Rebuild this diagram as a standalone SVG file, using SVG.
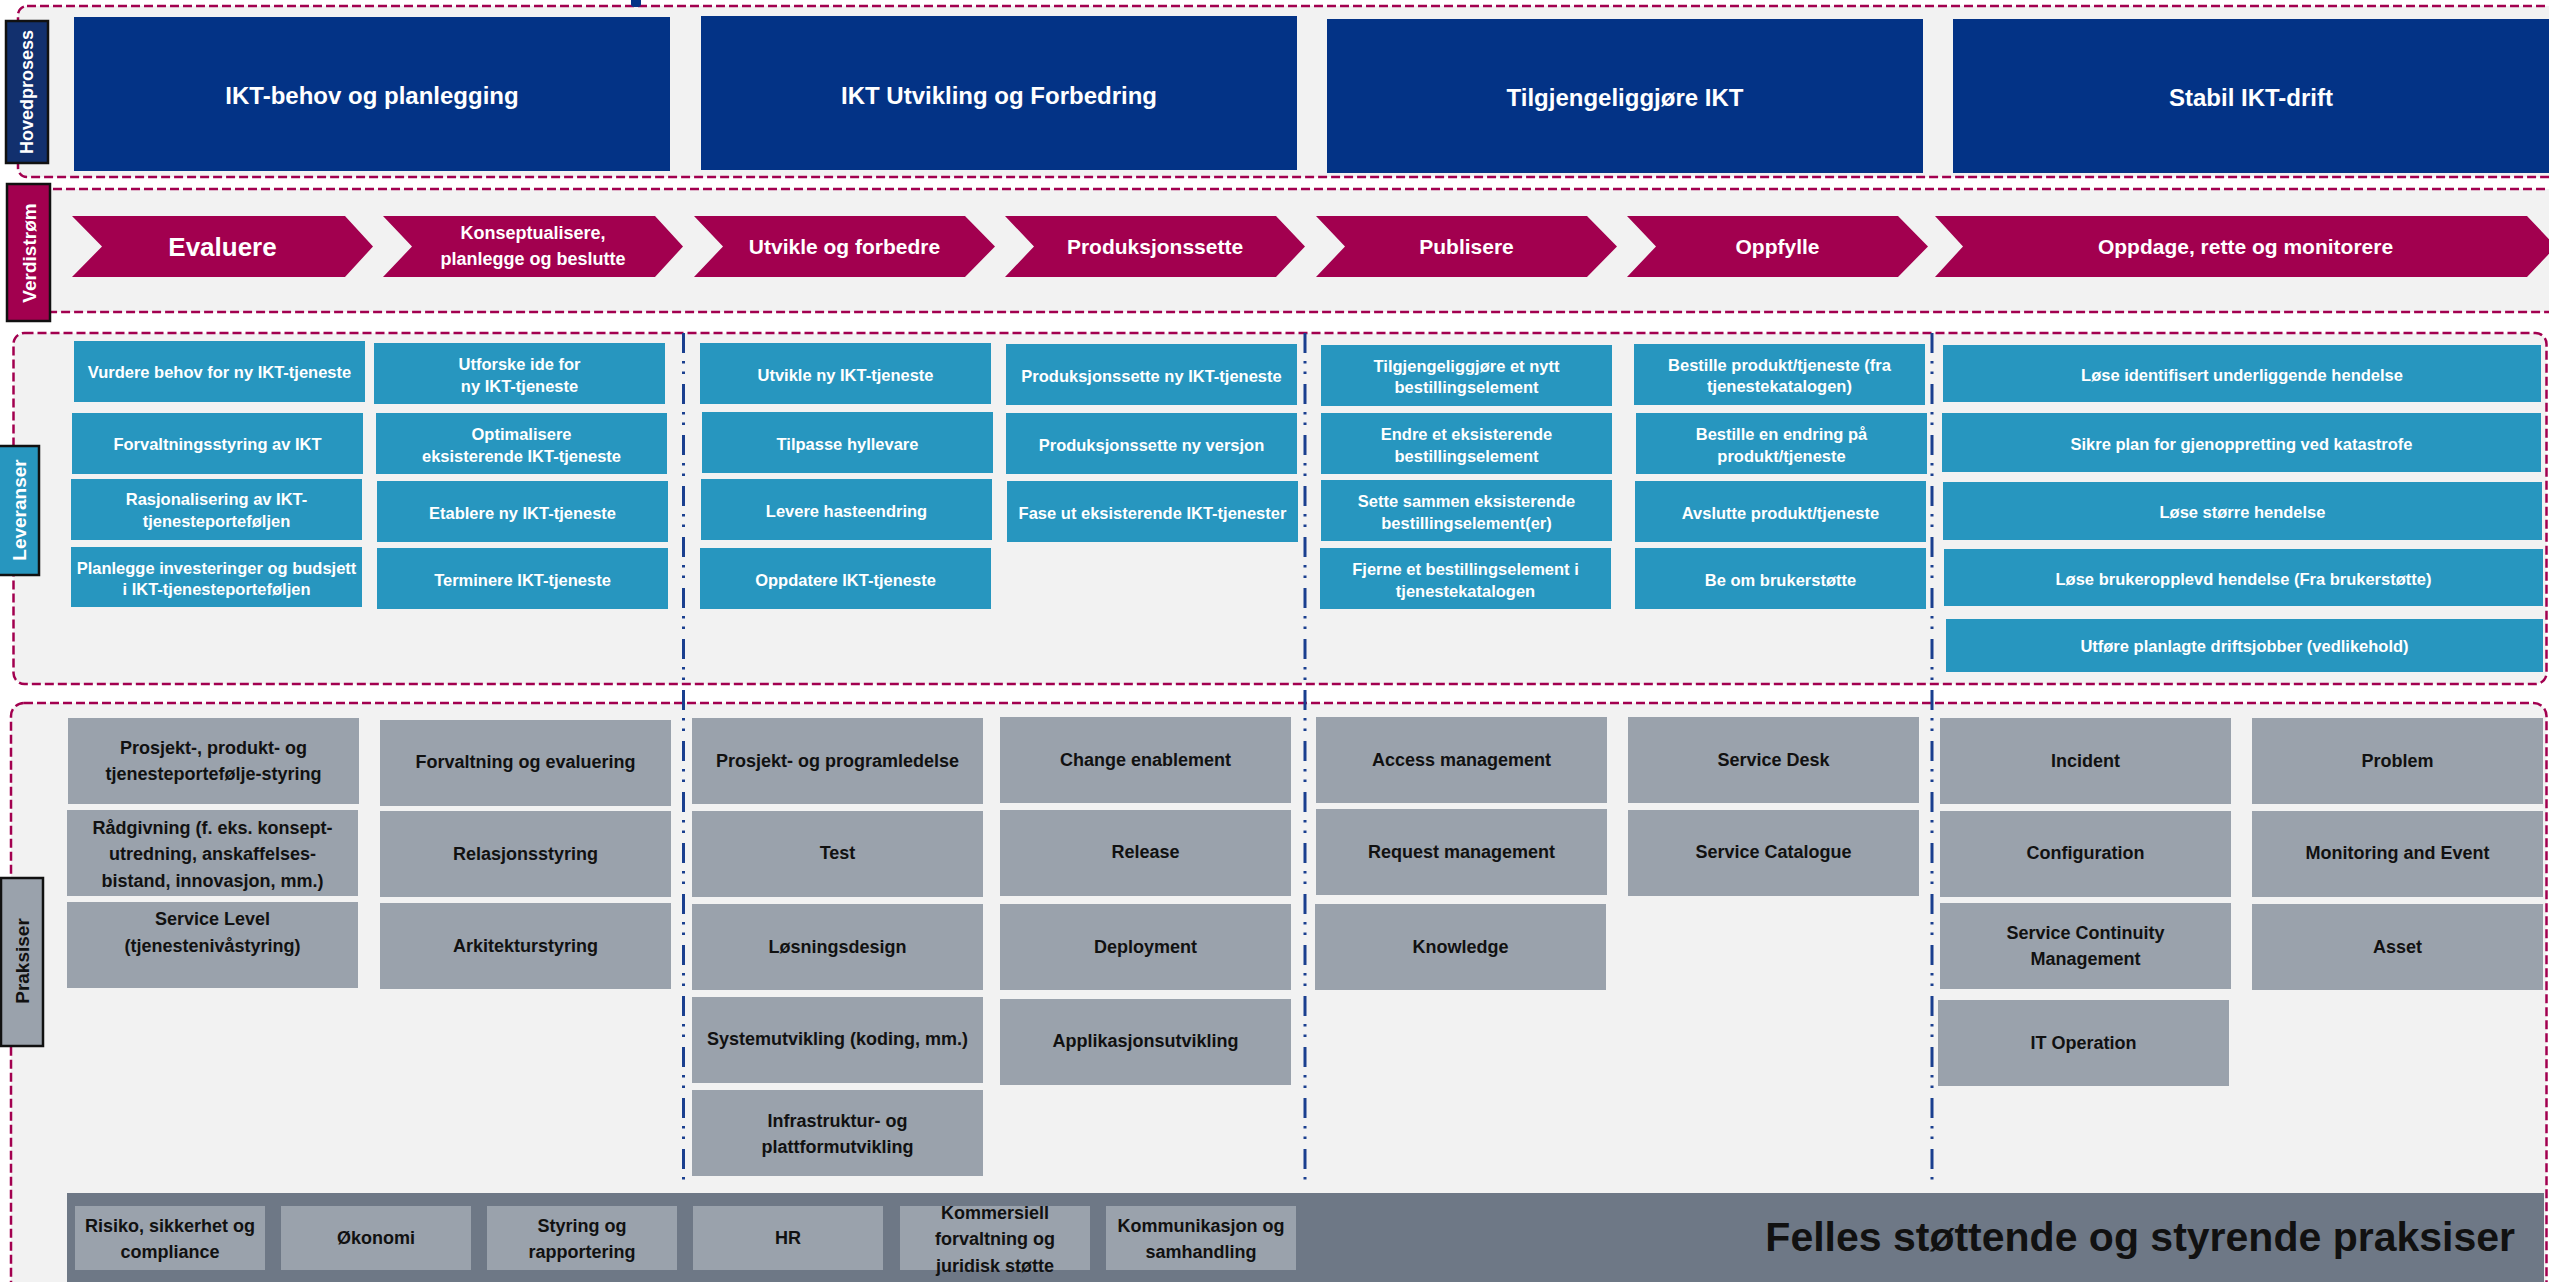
<svg xmlns="http://www.w3.org/2000/svg" width="2549" height="1282" viewBox="0 0 2549 1282">
<style>
text{font-family:"Liberation Sans",Arial,sans-serif;font-weight:bold;text-anchor:middle;dominant-baseline:central}
.sec{fill:#F2F2F2;stroke:#A2004F;stroke-width:2.5;stroke-dasharray:9 4}
.hp{fill:#033386}
.hpt{font-size:24px;fill:#fff}
.chev{fill:#A2004F}
.ct{font-size:21px;fill:#fff}
.ct2{font-size:18px;fill:#fff}
.lev{fill:#2796BF}
.lt{font-size:16.5px;fill:#fff}
.pr{fill:#9AA2AC}
.pt{font-size:18px;fill:#111}
.bt{font-size:18px;fill:#111}
.lab{stroke:#111;stroke-width:2.5}
.labt{font-size:19px;fill:#fff}
.div{stroke:#1A3F8F;stroke-width:3;fill:none;stroke-dasharray:20 8 2.5 8 2.5 10}
</style>
<rect width="2549" height="1282" fill="#fff"/>

<!-- section frames -->
<g id="sections">
<rect class="sec" x="18" y="6" width="2560" height="171" rx="9"/>
<rect class="sec" x="18" y="189" width="2560" height="123" rx="9"/>
<rect class="sec" x="13.5" y="333" width="2533" height="351" rx="11"/>
<rect class="sec" x="11" y="703" width="2535.5" height="620" rx="13"/>
<rect x="631" y="-4" width="10" height="11" rx="3" fill="#033386"/>
</g>

<!-- lane labels -->
<g id="label-hovedprosess"><rect class="lab" x="6" y="21" width="42" height="142" fill="#12306E"/><text class="labt" transform="translate(27,92) rotate(-90)" style="font-size:18px">Hovedprosess</text></g>
<g id="label-verdistrom"><rect class="lab" x="7" y="184" width="43" height="137" fill="#A2004F"/><text class="labt" transform="translate(29,253) rotate(-90)">Verdistrøm</text></g>
<g id="label-leveranser"><rect class="lab" x="-2" y="446" width="41" height="129" fill="#2796BF"/><text class="labt" transform="translate(19,510) rotate(-90)">Leveranser</text></g>
<g id="label-praksiser"><rect class="lab" x="1" y="878" width="42" height="168" fill="#9AA2AC"/><text class="labt" transform="translate(22,961) rotate(-90)" style="fill:#111">Praksiser</text></g>

<!-- Hovedprosess -->
<g id="hp1"><rect class="hp" x="74" y="17" width="596" height="154"/><text class="hpt" x="372" y="95">IKT-behov og planlegging</text></g>
<g id="hp2"><rect class="hp" x="701" y="16" width="596" height="154"/><text class="hpt" x="999" y="95">IKT Utvikling og Forbedring</text></g>
<g id="hp3"><rect class="hp" x="1327" y="19" width="596" height="154"/><text class="hpt" x="1625" y="97">Tilgjengeliggjøre IKT</text></g>
<g id="hp4"><rect class="hp" x="1953" y="19" width="600" height="154"/><text class="hpt" x="2251" y="97">Stabil IKT-drift</text></g>

<!-- Verdistrøm -->
<g id="vs1"><polygon class="chev" points="72,216 345,216 373,246.5 345,277 72,277 102,246.5"/><text class="ct" x="222.5" y="246.5" style="font-size:26px">Evaluere</text></g>
<g id="vs2"><polygon class="chev" points="383,216 655,216 683,246.5 655,277 383,277 412,246.5"/><text class="ct2" x="533" y="233">Konseptualisere,</text><text class="ct2" x="533" y="259">planlegge og beslutte</text></g>
<g id="vs3"><polygon class="chev" points="694,216 965,216 995,246.5 965,277 694,277 723,246.5"/><text class="ct" x="844.5" y="246.5">Utvikle og forbedre</text></g>
<g id="vs4"><polygon class="chev" points="1005,216 1276,216 1305,246.5 1276,277 1005,277 1034,246.5"/><text class="ct" x="1155" y="246.5">Produksjonssette</text></g>
<g id="vs5"><polygon class="chev" points="1316,216 1587,216 1617,246.5 1587,277 1316,277 1345,246.5"/><text class="ct" x="1466.5" y="246.5">Publisere</text></g>
<g id="vs6"><polygon class="chev" points="1627,216 1898,216 1928,246.5 1898,277 1627,277 1656,246.5"/><text class="ct" x="1777.5" y="246.5">Oppfylle</text></g>
<g id="vs7"><polygon class="chev" points="1935,216 2527,216 2556,246.5 2527,277 1935,277 1963,246.5"/><text class="ct" x="2245.5" y="246.5">Oppdage, rette og monitorere</text></g>

<!-- Leveranser -->
<g id="l1"><rect class="lev" x="74" y="341" width="291" height="61"/><text class="lt" x="219.5" y="372">Vurdere behov for ny IKT-tjeneste</text></g>
<g id="l2"><rect class="lev" x="72" y="413" width="291" height="61"/><text class="lt" x="217.5" y="444">Forvaltningsstyring av IKT</text></g>
<g id="l3"><rect class="lev" x="71" y="479" width="291" height="61"/><text class="lt" x="216.5" y="499">Rasjonalisering av IKT-</text><text class="lt" x="216.5" y="521">tjenesteporteføljen</text></g>
<g id="l4"><rect class="lev" x="71" y="547" width="291" height="60"/><text class="lt" x="216.5" y="568">Planlegge investeringer og budsjett</text><text class="lt" x="216.5" y="589">i IKT-tjenesteporteføljen</text></g>
<g id="l5"><rect class="lev" x="374" y="343" width="291" height="61"/><text class="lt" x="519.5" y="364">Utforske ide for</text><text class="lt" x="519.5" y="385.5">ny IKT-tjeneste</text></g>
<g id="l6"><rect class="lev" x="376" y="413" width="291" height="61"/><text class="lt" x="521.5" y="434">Optimalisere</text><text class="lt" x="521.5" y="456">eksisterende IKT-tjeneste</text></g>
<g id="l7"><rect class="lev" x="377" y="481" width="291" height="61"/><text class="lt" x="522.5" y="513">Etablere ny IKT-tjeneste</text></g>
<g id="l8"><rect class="lev" x="377" y="548" width="291" height="61"/><text class="lt" x="522.5" y="580">Terminere IKT-tjeneste</text></g>
<g id="l9"><rect class="lev" x="700" y="343" width="291" height="61"/><text class="lt" x="845.5" y="375">Utvikle ny IKT-tjeneste</text></g>
<g id="l10"><rect class="lev" x="702" y="412" width="291" height="61"/><text class="lt" x="847.5" y="444">Tilpasse hyllevare</text></g>
<g id="l11"><rect class="lev" x="701" y="479" width="291" height="61"/><text class="lt" x="846.5" y="511">Levere hasteendring</text></g>
<g id="l12"><rect class="lev" x="700" y="548" width="291" height="61"/><text class="lt" x="845.5" y="580">Oppdatere IKT-tjeneste</text></g>
<g id="l13"><rect class="lev" x="1006" y="344" width="291" height="61"/><text class="lt" x="1151.5" y="376">Produksjonssette ny IKT-tjeneste</text></g>
<g id="l14"><rect class="lev" x="1006" y="413" width="291" height="61"/><text class="lt" x="1151.5" y="445">Produksjonssette ny versjon</text></g>
<g id="l15"><rect class="lev" x="1007" y="481" width="291" height="61"/><text class="lt" x="1152.5" y="513">Fase ut eksisterende IKT-tjenester</text></g>
<g id="l16"><rect class="lev" x="1321" y="345" width="291" height="61"/><text class="lt" x="1466.5" y="366">Tilgjengeliggjøre et nytt</text><text class="lt" x="1466.5" y="387">bestillingselement</text></g>
<g id="l17"><rect class="lev" x="1321" y="413" width="291" height="61"/><text class="lt" x="1466.5" y="434">Endre et eksisterende</text><text class="lt" x="1466.5" y="456">bestillingselement</text></g>
<g id="l18"><rect class="lev" x="1321" y="480" width="291" height="61"/><text class="lt" x="1466.5" y="501">Sette sammen eksisterende</text><text class="lt" x="1466.5" y="523">bestillingselement(er)</text></g>
<g id="l19"><rect class="lev" x="1320" y="548" width="291" height="61"/><text class="lt" x="1465.5" y="569">Fjerne et bestillingselement i</text><text class="lt" x="1465.5" y="591">tjenestekatalogen</text></g>
<g id="l20"><rect class="lev" x="1634" y="344" width="291" height="61"/><text class="lt" x="1779.5" y="365">Bestille produkt/tjeneste (fra</text><text class="lt" x="1779.5" y="386">tjenestekatalogen)</text></g>
<g id="l21"><rect class="lev" x="1636" y="413" width="291" height="61"/><text class="lt" x="1781.5" y="434">Bestille en endring på</text><text class="lt" x="1781.5" y="456">produkt/tjeneste</text></g>
<g id="l22"><rect class="lev" x="1635" y="481" width="291" height="61"/><text class="lt" x="1780.5" y="513">Avslutte produkt/tjeneste</text></g>
<g id="l23"><rect class="lev" x="1635" y="548" width="291" height="61"/><text class="lt" x="1780.5" y="580">Be om brukerstøtte</text></g>
<g id="l24"><rect class="lev" x="1943" y="345" width="598" height="57"/><text class="lt" x="2242" y="375">Løse identifisert underliggende hendelse</text></g>
<g id="l25"><rect class="lev" x="1942" y="413" width="599" height="59"/><text class="lt" x="2241.5" y="444">Sikre plan for gjenoppretting ved katastrofe</text></g>
<g id="l26"><rect class="lev" x="1943" y="482" width="599" height="58"/><text class="lt" x="2242.5" y="512">Løse større hendelse</text></g>
<g id="l27"><rect class="lev" x="1944" y="549" width="599" height="57"/><text class="lt" x="2243.5" y="579">Løse brukeropplevd hendelse (Fra brukerstøtte)</text></g>
<g id="l28"><rect class="lev" x="1946" y="619" width="597" height="53"/><text class="lt" x="2244.5" y="646">Utføre planlagte driftsjobber (vedlikehold)</text></g>

<!-- Praksiser -->
<g id="p1"><rect class="pr" x="68" y="718" width="291" height="86"/><text class="pt" x="213.5" y="748">Prosjekt-, produkt- og</text><text class="pt" x="213.5" y="774">tjenesteportefølje-styring</text></g>
<g id="p2"><rect class="pr" x="67" y="810" width="291" height="86"/><text class="pt" x="212.5" y="828">Rådgivning (f. eks. konsept-</text><text class="pt" x="212.5" y="854">utredning, anskaffelses-</text><text class="pt" x="212.5" y="880.5">bistand, innovasjon, mm.)</text></g>
<g id="p3"><rect class="pr" x="67" y="902" width="291" height="86"/><text class="pt" x="212.5" y="919">Service Level</text><text class="pt" x="212.5" y="946">(tjenestenivåstyring)</text></g>
<g id="p4"><rect class="pr" x="380" y="720" width="291" height="86"/><text class="pt" x="525.5" y="762">Forvaltning og evaluering</text></g>
<g id="p5"><rect class="pr" x="380" y="811" width="291" height="86"/><text class="pt" x="525.5" y="854">Relasjonsstyring</text></g>
<g id="p6"><rect class="pr" x="380" y="903" width="291" height="86"/><text class="pt" x="525.5" y="946">Arkitekturstyring</text></g>
<g id="p7"><rect class="pr" x="692" y="718" width="291" height="86"/><text class="pt" x="837.5" y="761">Prosjekt- og programledelse</text></g>
<g id="p8"><rect class="pr" x="692" y="811" width="291" height="86"/><text class="pt" x="837.5" y="853">Test</text></g>
<g id="p9"><rect class="pr" x="692" y="904" width="291" height="86"/><text class="pt" x="837.5" y="947">Løsningsdesign</text></g>
<g id="p10"><rect class="pr" x="692" y="997" width="291" height="86"/><text class="pt" x="837.5" y="1039">Systemutvikling (koding, mm.)</text></g>
<g id="p11"><rect class="pr" x="692" y="1090" width="291" height="86"/><text class="pt" x="837.5" y="1120.5">Infrastruktur- og</text><text class="pt" x="837.5" y="1147">plattformutvikling</text></g>
<g id="p12"><rect class="pr" x="1000" y="717" width="291" height="86"/><text class="pt" x="1145.5" y="760">Change enablement</text></g>
<g id="p13"><rect class="pr" x="1000" y="810" width="291" height="86"/><text class="pt" x="1145.5" y="852">Release</text></g>
<g id="p14"><rect class="pr" x="1000" y="904" width="291" height="86"/><text class="pt" x="1145.5" y="947">Deployment</text></g>
<g id="p15"><rect class="pr" x="1000" y="999" width="291" height="86"/><text class="pt" x="1145.5" y="1041">Applikasjonsutvikling</text></g>
<g id="p16"><rect class="pr" x="1316" y="717" width="291" height="86"/><text class="pt" x="1461.5" y="760">Access management</text></g>
<g id="p17"><rect class="pr" x="1316" y="809" width="291" height="86"/><text class="pt" x="1461.5" y="852">Request management</text></g>
<g id="p18"><rect class="pr" x="1315" y="904" width="291" height="86"/><text class="pt" x="1460.5" y="947">Knowledge</text></g>
<g id="p19"><rect class="pr" x="1628" y="717" width="291" height="86"/><text class="pt" x="1773.5" y="760">Service Desk</text></g>
<g id="p20"><rect class="pr" x="1628" y="810" width="291" height="86"/><text class="pt" x="1773.5" y="852">Service Catalogue</text></g>
<g id="p21"><rect class="pr" x="1940" y="718" width="291" height="86"/><text class="pt" x="2085.5" y="761">Incident</text></g>
<g id="p22"><rect class="pr" x="1940" y="811" width="291" height="86"/><text class="pt" x="2085.5" y="853">Configuration</text></g>
<g id="p23"><rect class="pr" x="1940" y="903" width="291" height="86"/><text class="pt" x="2085.5" y="932.5">Service Continuity</text><text class="pt" x="2085.5" y="959">Management</text></g>
<g id="p24"><rect class="pr" x="1938" y="1000" width="291" height="86"/><text class="pt" x="2083.5" y="1043">IT Operation</text></g>
<g id="p25"><rect class="pr" x="2252" y="718" width="291" height="86"/><text class="pt" x="2397.5" y="761">Problem</text></g>
<g id="p26"><rect class="pr" x="2252" y="811" width="291" height="86"/><text class="pt" x="2397.5" y="853">Monitoring and Event</text></g>
<g id="p27"><rect class="pr" x="2252" y="904" width="291" height="86"/><text class="pt" x="2397.5" y="947">Asset</text></g>

<!-- dividers -->
<g id="dividers">
<line class="div" x1="683.5" y1="333" x2="683.5" y2="1186"/>
<line class="div" x1="1305" y1="333" x2="1305" y2="1186"/>
<line class="div" x1="1932" y1="333" x2="1932" y2="1186"/>
</g>

<!-- Felles støttende og styrende praksiser -->
<g id="felles">
<rect x="67" y="1193" width="2477" height="100" fill="#6E7886"/>
<text x="2515" y="1237" style="font-size:41px;fill:#111;text-anchor:end">Felles støttende og styrende praksiser</text>
</g>
<g id="f1"><rect class="pr" x="75" y="1206" width="190" height="64"/><text class="bt" x="170" y="1226">Risiko, sikkerhet og</text><text class="bt" x="170" y="1252">compliance</text></g>
<g id="f2"><rect class="pr" x="281" y="1206" width="190" height="64"/><text class="bt" x="376" y="1237.5">Økonomi</text></g>
<g id="f3"><rect class="pr" x="487" y="1206" width="190" height="64"/><text class="bt" x="582" y="1226">Styring og</text><text class="bt" x="582" y="1252">rapportering</text></g>
<g id="f4"><rect class="pr" x="693" y="1206" width="190" height="64"/><text class="bt" x="788" y="1237.5">HR</text></g>
<g id="f5"><rect class="pr" x="900" y="1206" width="190" height="64"/><text class="bt" x="995" y="1213">Kommersiell</text><text class="bt" x="995" y="1239">forvaltning og</text><text class="bt" x="995" y="1265.5">juridisk støtte</text></g>
<g id="f6"><rect class="pr" x="1106" y="1206" width="190" height="64"/><text class="bt" x="1201" y="1226">Kommunikasjon og</text><text class="bt" x="1201" y="1252">samhandling</text></g>
</svg>
